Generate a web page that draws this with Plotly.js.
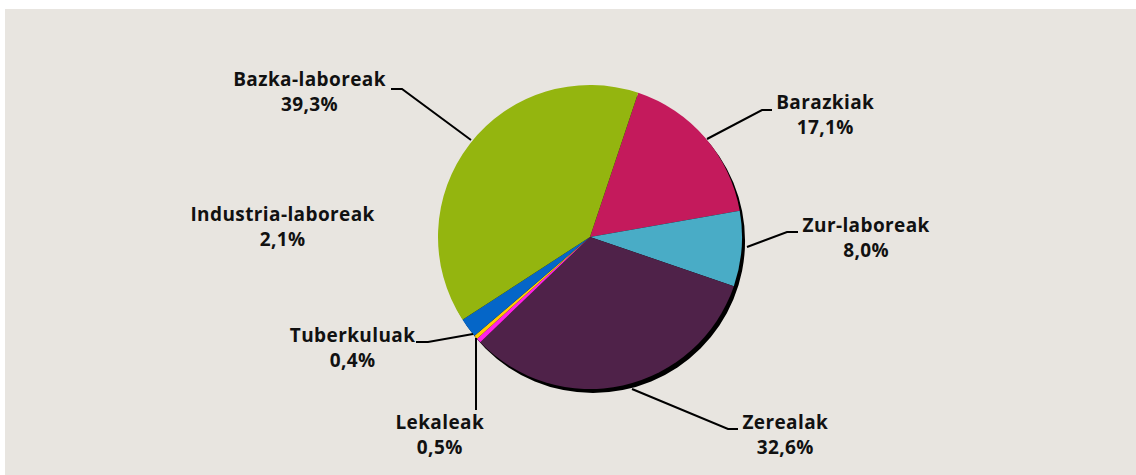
<!DOCTYPE html>
<html>
<head>
<meta charset="utf-8">
<script src="https://cdn.plot.ly/plotly-3.0.1.min.js"></script>
<style>
html,body{margin:0;padding:0;background:#ffffff;}
#chart{position:absolute;left:5px;top:9px;width:1131px;height:466px;}
#chart .annotation-text{letter-spacing:0.4px;}
</style>
</head>
<body>
<div id="chart"></div>
<script>
// Data (clockwise order starting near 12 o'clock)
const categories = ["Barazkiak", "Zur-laboreak", "Zerealak", "Lekaleak", "Tuberkuluak", "Industria-laboreak", "Bazka-laboreak"];
const shares = [17.1, 8.0, 32.6, 0.5, 0.4, 2.1, 39.3];
const sliceColors = ["#c41a5c", "#49acc6", "#4f2249", "#ff22e6", "#ffcc00", "#0566c8", "#94b50f"];

// Layout helpers (pixel -> paper in the 1131x466 figure, offset 5,9 in page)
const W = 1131, H = 466, OX = 5, OY = 9;
const px = X => (X - OX) / W;
const py = Y => 1 - (Y - OY) / H;

const cx = 590, cy = 237, R = 152;
const dom = (dx, dy) => ({
  x: [px(cx - R + dx), px(cx + R + dx)],
  y: [py(cy + R + dy), py(cy - R + dy)]
});

const shadow = {
  type: 'pie', values: [1], labels: ['shadow'],
  marker: {colors: ['#000000'], line: {width: 0}},
  textinfo: 'none', hoverinfo: 'skip', sort: false,
  domain: dom(3, 4), showlegend: false
};
const pie = {
  type: 'pie', values: shares, labels: categories,
  marker: {colors: sliceColors, line: {width: 0}},
  textinfo: 'none', sort: false, direction: 'clockwise', rotation: 18.5,
  domain: dom(0, 0), showlegend: false
};

// label positions (text centre of first line) and leader lines (pixel paths)
const labelPos = {
  "Bazka-laboreak": [309, 80],
  "Barazkiak": [825, 102],
  "Zur-laboreak": [866, 225],
  "Zerealak": [785, 422],
  "Lekaleak": [440, 422],
  "Tuberkuluak": [352, 335],
  "Industria-laboreak": [282, 214]
};
const leaders = [
  [[391, 89], [402, 89], [471, 140]],
  [[772, 110], [762, 110], [707, 139]],
  [[798, 232], [787, 232], [747, 247]],
  [[738, 429], [728, 429], [632, 389]],
  [[476, 410], [476, 338]],
  [[416, 342], [428, 342], [473, 334]]
];

const fmt = v => v.toFixed(1).replace('.', ',') + '%';
const annotations = [];
categories.forEach((c, i) => {
  const p = labelPos[c];
  annotations.push({
    x: px(p[0]), y: py(p[1] + 12), xref: 'paper', yref: 'paper',
    xanchor: 'center', yanchor: 'middle', showarrow: false,
    text: '<b>' + c + '<br>' + fmt(shares[i]) + '</b>',
    font: {family: '"Open Sans", sans-serif', size: 19, color: '#111111'}
  });
});

const shapes = [];
leaders.forEach(pts => {
  let d = 'M' + pts.map(p => px(p[0]) + ',' + py(p[1])).join(' L');
  shapes.push({type: 'path', xref: 'paper', yref: 'paper', path: d,
    line: {color: '#000000', width: 2}});
});

const layout = {
  width: W, height: H,
  margin: {l: 0, r: 0, t: 0, b: 0, pad: 0},
  paper_bgcolor: '#e8e5e0',
  showlegend: false,
  annotations: annotations,
  shapes: shapes
};
Plotly.newPlot('chart', [shadow, pie], layout, {staticPlot: true, displayModeBar: false});
</script>
</body>
</html>
